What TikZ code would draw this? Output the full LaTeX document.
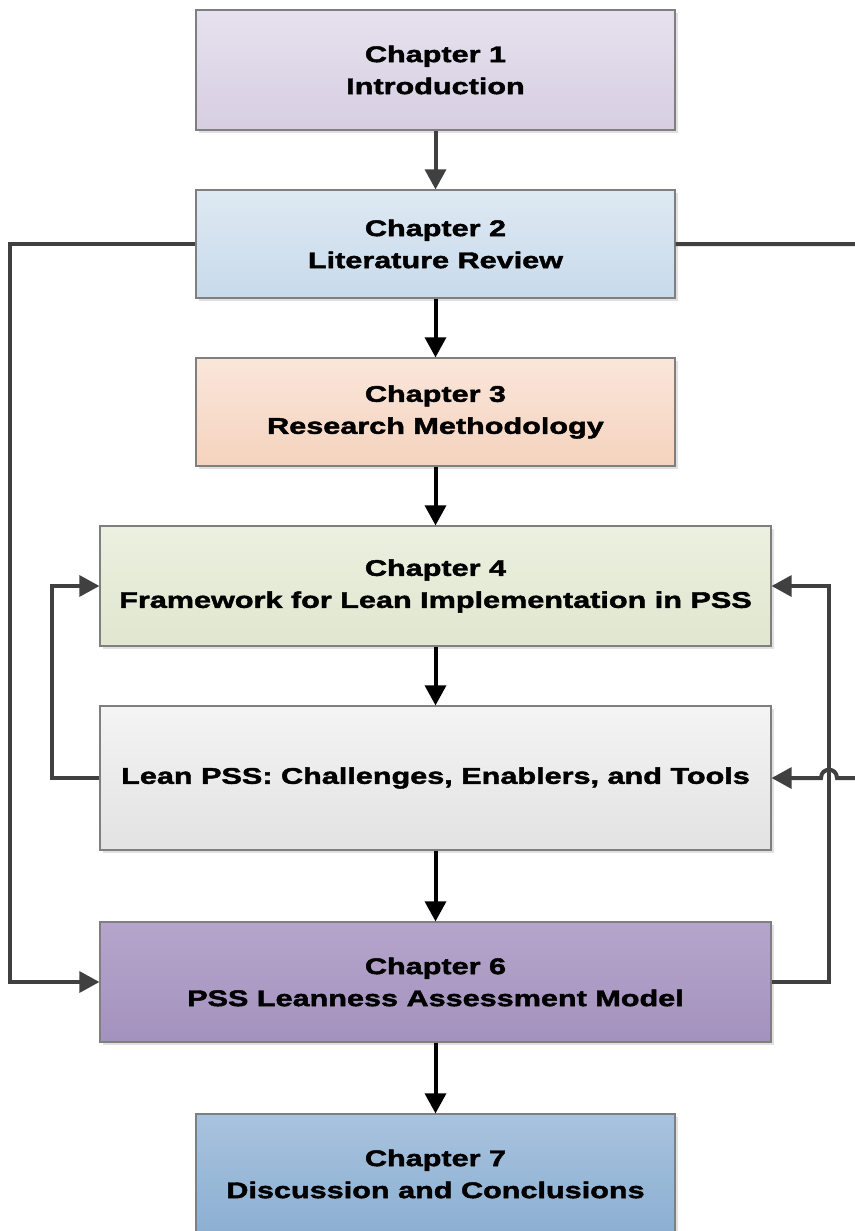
\documentclass[tikz,border=0pt]{standalone}
\usepackage{fontspec}
\setmainfont{Liberation Sans}[FakeStretch=1.35, FakeBold=2]
\usetikzlibrary{arrows.meta,shadows}
\definecolor{linegray}{HTML}{404040}
\definecolor{boxedge}{HTML}{7F7F7F}
\tikzset{
  chapbox/.style={draw=boxedge, line width=0.8pt, align=center,
    font=\fontsize{17}{24}\selectfont\bfseries, text=black,
    drop shadow={shadow xshift=2.5pt, shadow yshift=-2.5pt, fill=black, opacity=0.12}},
  narrow/.style={minimum width=359.25pt},
  wide/.style={minimum width=503.25pt},
  link/.style={draw=linegray, line width=3pt, -{Triangle[length=15pt,width=15.5pt]}},
  flow/.style={link, draw=black}
}
\begin{document}
\begin{tikzpicture}[x=0.75pt,y=-0.75pt]
\useasboundingbox (0,0) rectangle (855,1231);
\clip (0,0) rectangle (855,1231);
\fill[white] (0,0) rectangle (855,1231);

\node[chapbox, narrow, minimum height=90pt, top color={rgb,255:red,230;green,225;blue,238}, bottom color={rgb,255:red,215;green,206;blue,226}] (b1) at (435.5,70) {Chapter 1\\Introduction};
\node[chapbox, narrow, minimum height=81pt, top color={rgb,255:red,222;green,233;blue,243}, bottom color={rgb,255:red,200;green,218;blue,235}] (b2) at (435.5,244) {Chapter 2\\Literature Review};
\node[chapbox, narrow, minimum height=81pt, top color={rgb,255:red,250;green,230;blue,218}, bottom color={rgb,255:red,245;green,211;blue,190}] (b3) at (435.5,412) {Chapter 3\\Research Methodology};
\node[chapbox, wide, minimum height=90pt, top color={rgb,255:red,236;green,240;blue,224}, bottom color={rgb,255:red,224;green,230;blue,207}] (b4) at (435.5,586) {Chapter 4\\Framework for Lean Implementation in PSS};
\node[chapbox, wide, minimum height=108pt, top color={rgb,255:red,244;green,244;blue,244}, bottom color={rgb,255:red,226;green,226;blue,226}] (b5) at (435.5,778) {Lean PSS: Challenges, Enablers, and Tools};
\node[chapbox, wide, minimum height=90pt, top color={rgb,255:red,181;green,165;blue,203}, bottom color={rgb,255:red,164;green,146;blue,190}] (b6) at (435.5,982) {Chapter 6\\PSS Leanness Assessment Model};
\node[chapbox, narrow, minimum height=90pt, top color={rgb,255:red,168;green,195;blue,222}, bottom color={rgb,255:red,140;green,175;blue,210}] (b7) at (435.5,1174) {Chapter 7\\Discussion and Conclusions};

% main vertical flow
\draw[link] (b1.south) -- (b2.north);
\draw[flow] (b2.south) -- (b3.north);
\draw[flow] (b3.south) -- (b4.north);
\draw[flow] (b4.south) -- (b5.north);
\draw[flow] (b5.south) -- (b6.north);
\draw[flow] (b6.south) -- (b7.north);

% feedback loops
\draw[link] (b2.west) -- (10,244) -- (10,982) -- (b6.west);
\draw[link] (b5.west) -- (52,778) -- (52,586) -- (b4.west);
\draw[link] (b6.east) -- (829,982) -- (829,586) -- (b4.east);
\draw[link] (b2.east) -- (890,244) -- (890,778) -- (837,778)
  .. controls (837,767) and (821,767) .. (821,778) -- (b5.east);
\end{tikzpicture}
\end{document}
